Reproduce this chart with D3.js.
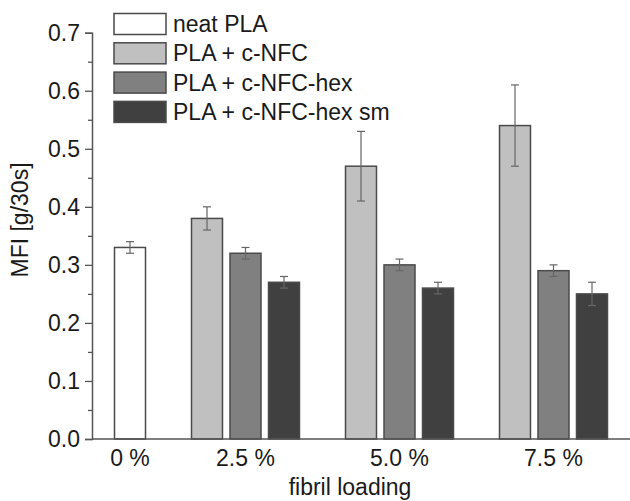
<!DOCTYPE html>
<html>
<head>
<meta charset="utf-8">
<script src="https://cdn.jsdelivr.net/npm/d3@7/dist/d3.min.js"></script>
<style>
  body { margin: 0; background: #fff; }
  svg text { font-family: "Liberation Sans", Arial, sans-serif; fill: #1a1a1a; }
</style>
</head>
<body>
<svg id="chart" width="630" height="501"></svg>
<script>
// data
var categories = ["0 %", "2.5 %", "5.0 %", "7.5 %"];
var seriesNames = ["neat PLA", "PLA + c-NFC", "PLA + c-NFC-hex", "PLA + c-NFC-hex sm"];
var seriesColors = ["#ffffff", "#c0c0c0", "#808080", "#404040"];

var neatPLA      = [0.33, null, null, null];
var neatPLAErr   = [0.01, null, null, null];
var cNFC         = [null, 0.38, 0.47, 0.54];
var cNFCErr      = [null, 0.02, 0.06, 0.07];
var cNFCHex      = [null, 0.32, 0.30, 0.29];
var cNFCHexErr   = [null, 0.01, 0.01, 0.01];
var cNFCHexSm    = [null, 0.27, 0.26, 0.25];
var cNFCHexSmErr = [null, 0.01, 0.01, 0.02];

var yTicks = [0.0, 0.1, 0.2, 0.3, 0.4, 0.5, 0.6, 0.7];

var seriesValues = [neatPLA, cNFC, cNFCHex, cNFCHexSm];
var seriesErrors = [neatPLAErr, cNFCErr, cNFCHexErr, cNFCHexSmErr];

// one slot per bar, with an empty slot between loading groups
var bars = [], slots = [];
categories.forEach(function(cat, ci) {
    if (ci > 0) slots.push("gap" + ci);
    seriesValues.forEach(function(vals, si) {
        if (vals[ci] == null) return;
        var key = ci + "|" + si;
        slots.push(key);
        bars.push({key: key, ci: ci, si: si, value: vals[ci], err: seriesErrors[si][ci]});
    });
});

var svg = d3.select("#chart");
var axisColor = "#555";

var x = d3.scaleBand()
    .domain(slots)
    .range([110.75, 611.25])
    .paddingInner(0.195)
    .paddingOuter(0.0975);

var y = d3.scaleLinear().domain([0, 0.7]).range([439, 32.7]);

// bars
svg.append("g").selectAll("rect")
    .data(bars)
    .enter().append("rect")
        .attr("x", function(d) { return x(d.key); })
        .attr("y", function(d) { return y(d.value); })
        .attr("width", x.bandwidth())
        .attr("height", function(d) { return y(0) - y(d.value); })
        .attr("fill", function(d) { return seriesColors[d.si]; })
        .attr("stroke", "#4a4a4a")
        .attr("stroke-width", 1.5);

// error bars
var eb = svg.append("g").attr("stroke", "#666").attr("stroke-width", 1.2);
bars.forEach(function(d) {
    var cx = x(d.key) + x.bandwidth() / 2;
    eb.append("line").attr("x1", cx).attr("x2", cx)
        .attr("y1", y(d.value + d.err)).attr("y2", y(d.value - d.err));
    [d.value + d.err, d.value - d.err].forEach(function(v) {
        eb.append("line").attr("x1", cx - 4).attr("x2", cx + 4)
            .attr("y1", y(v)).attr("y2", y(v));
    });
});

// y axis
var yAxis = d3.axisLeft(y).tickValues(yTicks).tickFormat(d3.format(".1f"))
    .tickSize(7).tickPadding(5);
var yg = svg.append("g").attr("transform", "translate(92,0)").call(yAxis);
yg.select(".domain").attr("stroke", axisColor).attr("stroke-width", 1.5);
yg.selectAll(".tick line").attr("stroke", axisColor).attr("stroke-width", 1.3);
yg.selectAll(".tick text").style("font-size", "23px").attr("fill", "#1a1a1a");
// minor ticks
var minor = d3.axisLeft(y).tickValues(yTicks.slice(0, -1).map(function(t) { return t + 0.05; }))
    .tickSize(4).tickFormat("");
var mg = svg.append("g").attr("transform", "translate(92,0)").call(minor);
mg.select(".domain").remove();
mg.selectAll(".tick line").attr("stroke", axisColor).attr("stroke-width", 1.3);

// x axis line
svg.append("line")
    .attr("x1", 92).attr("x2", 630)
    .attr("y1", y(0)).attr("y2", y(0))
    .attr("stroke", axisColor).attr("stroke-width", 1.5);

// category labels at the middle of each group
svg.append("g").selectAll("text")
    .data(categories)
    .enter().append("text")
        .attr("x", function(c, ci) {
            var grp = bars.filter(function(b) { return b.ci === ci; });
            return d3.mean(grp, function(b) { return x(b.key) + x.bandwidth() / 2; });
        })
        .attr("y", 466)
        .attr("text-anchor", "middle")
        .style("font-size", "23px")
        .text(function(c) { return c; });

// axis titles
svg.append("text")
    .attr("x", 350).attr("y", 495)
    .attr("text-anchor", "middle")
    .style("font-size", "23px")
    .text("fibril loading");

svg.append("text")
    .attr("transform", "translate(28,220) rotate(-90)")
    .attr("text-anchor", "middle")
    .style("font-size", "23px")
    .text("MFI [g/30s]");

// legend
var legend = svg.append("g").selectAll("g")
    .data(seriesNames)
    .enter().append("g")
        .attr("transform", function(d, i) { return "translate(114," + (13.5 + i * 29.3) + ")"; });
legend.append("rect")
    .attr("width", 52).attr("height", 21)
    .attr("fill", function(d, i) { return seriesColors[i]; })
    .attr("stroke", "#4a4a4a").attr("stroke-width", 1.5);
legend.append("text")
    .attr("x", 59).attr("y", 18.5)
    .style("font-size", "23px")
    .text(function(d) { return d; });
</script>
</body>
</html>
